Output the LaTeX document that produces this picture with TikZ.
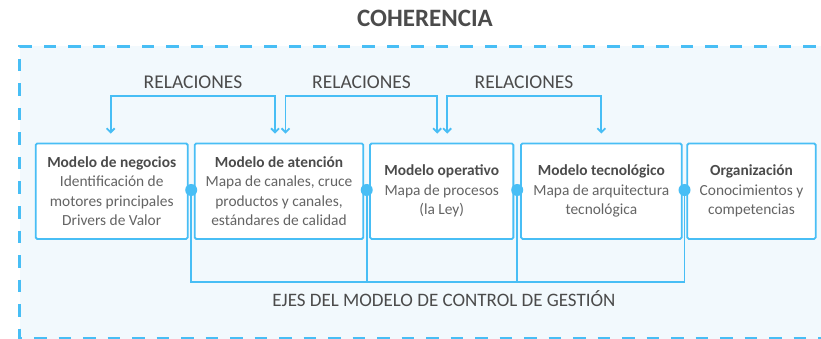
\documentclass[tikz,border=0pt]{standalone}
\usepackage{fontspec}
\setmainfont{Carlito}
\usetikzlibrary{arrows.meta}
\definecolor{lb}{RGB}{72,190,245}
\definecolor{bgfill}{RGB}{242,249,253}
\definecolor{tg}{RGB}{75,75,75}
\definecolor{bodyg}{RGB}{100,100,100}
\begin{document}
\begin{tikzpicture}[x=1pt,y=-1pt,
 box/.style={draw=lb, line width=1.8pt, rounded corners=1.5pt, fill=white, minimum height=95.5pt, inner sep=0pt, align=center, font=\fontsize{15.4}{19.5}\selectfont, text=bodyg},
 dot/.style={circle, fill=lb, minimum size=12pt, inner sep=0pt},
 conn/.style={draw=lb, line width=1.8pt},
 rel/.style={conn, {Straight Barb[length=4pt,width=8pt]}-{Straight Barb[length=4pt,width=8pt]}},
 lab/.style={text=tg, font=\fontsize{19.5}{21}\selectfont, inner sep=0pt},
 ttl/.style={font=\bfseries, text=tg}]
\useasboundingbox (0,0) rectangle (821,339);
\clip (0,0) rectangle (821,339);
% background frame
\fill[bgfill] (19.5,46.5) rectangle (840,338.5);
\draw[lb, line width=3.5pt, dash pattern=on 12.5pt off 12pt] (840,46.5) -- (19.5,46.5) -- (19.5,338.5) -- (840,338.5);
\node[text=tg, font=\fontsize{25}{27}\selectfont\bfseries, inner sep=0pt] (coh) at (425,18) {COHERENCIA};
% boxes
\node[box, minimum width=152pt] (b1) at (111.7,191.2) {{\bfseries\color{tg}Modelo de negocios}\\Identificación de\\motores principales\\Drivers de Valor};
\node[box, minimum width=168.6pt] (b2) at (279,191.2) {{\bfseries\color{tg}Modelo de atención}\\Mapa de canales, cruce\\productos y canales,\\estándares de calidad};
\node[box, minimum width=143.3pt] (b3) at (441.7,191.2) {{\bfseries\color{tg}Modelo operativo}\\Mapa de procesos\\(la Ley)};
\node[box, minimum width=160.7pt] (b4) at (601.35,191.2) {{\bfseries\color{tg}Modelo tecnológico}\\Mapa de arquitectura\\tecnológica};
\node[box, minimum width=128.4pt] (b5) at (751.5,191.2) {{\bfseries\color{tg}Organización}\\Conocimientos y\\competencias};
% relation brackets
\coordinate (r1) at (193,96);
\coordinate (r2) at (361.5,96);
\coordinate (r3) at (524,96);
\draw[rel] ([xshift=-1pt,yshift=9pt]b1.north) |- (r1) -| ([xshift=-4pt,yshift=9pt]b2.north);
\draw[rel] ([xshift=6.5pt,yshift=9pt]b2.north) |- (r2) -| ([xshift=-4.5pt,yshift=9pt]b3.north);
\draw[rel] ([xshift=5.5pt,yshift=9pt]b3.north) |- (r3) -| ([yshift=9pt]b4.north);
\node[lab] (l1) at (193,82) {RELACIONES};
\node[lab] (l2) at (361.5,82) {RELACIONES};
\node[lab] (l3) at (524,82) {RELACIONES};
% dots and axis lines
\node[dot] (d1) at (191.2,190) {};
\node[dot] (d2) at (366.7,190) {};
\node[dot] (d3) at (517.2,190) {};
\node[dot] (d4) at (684.5,190) {};
\coordinate (h) at (0,281.7);
\draw[conn] (d1) -- (d1 |- h) -- (d4 |- h) -- (d4);
\draw[conn] (d2) -- (d2 |- h);
\draw[conn] (d3) -- (d3 |- h);
\node[lab, font=\fontsize{19}{21}\selectfont] (ejes) at (444,299) {EJES DEL MODELO DE CONTROL DE GESTIÓN};
\end{tikzpicture}
\end{document}
